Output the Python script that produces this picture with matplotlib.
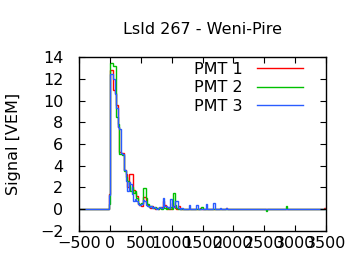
import numpy as np
import matplotlib
matplotlib.use("Agg")
import matplotlib.pyplot as plt

plt.rcParams['font.family'] = ['DejaVu Sans']

title = "LsId 267 - Weni-Pire"
ylabel = "Signal [VEM]"
labels = ["PMT 1", "PMT 2", "PMT 3"]
colors = ["#ff0000", "#00c000", "#2a5cff"]

bin_width = 25.0
t_min, t_max = -500.0, 3500.0
trace_start = -25.0  # start time of the first stored bin

# PMT 1 (red), bins of 25 ns starting at -25 ns
pmt1 = [1.4, 12.8, 12.8, 11.0, 10.7, 9.6, 7.6, 5.3, 5.2, 5.2,
        3.6, 3.2, 2.0, 3.2, 3.2, 3.2, 1.8, 1.5, 1.2, 0.5,
        0.4, 0.3, 1.1, 1.1, 0.6, 0.4, 0.2, 0.1, 0.3, 0.1,
        0.0, 0.1, 0.0, 0.1, 0.2, 0.7, 0.4, 0.1, 0.0, 0.2,
        0.0, 0.6, 0.3, 0.1, 0.0, 0.3, 0.0, 0.0, 0.0, 0.0,
        0.0, 0.0, 0.0, 0.0, 0.0, 0.0, 0.0, 0.0, 0.0, 0.1,
        0.0, 0.0, 0.0, 0.0, 0.0, 0.0, 0.0, 0.0, 0.0, 0.0,
        0.0, 0.0, 0.0, 0.0, 0.0, 0.0, 0.1, 0.0, 0.0, 0.0]
# PMT 2 (green)
pmt2 = [0.5, 13.5, 13.5, 13.2, 13.2, 8.5, 7.8, 5.1, 5.1, 5.0,
        3.5, 3.0, 2.6, 2.2, 1.7, 2.0, 1.5, 1.7, 1.0, 0.6,
        0.5, 0.6, 1.9, 1.9, 1.0, 0.5, 0.2, 0.3, 0.2, 0.1,
        0.2, 0.1, 0.0, 0.1, 0.0, 0.2, 0.1, 0.0, 0.1, 0.0,
        0.2, 0.0, 1.5, 0.4, 0.1, 0.0, 0.0, 0.0, 0.0, 0.0,
        0.0, 0.0, 0.0, 0.0, 0.0, 0.0, 0.0, 0.0, 0.0, 0.0,
        0.15, 0.0, 0.0, 0.0, 0.0, 0.0, 0.0, 0.0, 0.0, 0.0,
        0.0, 0.0, 0.0, 0.0, 0.0, 0.0, 0.0, 0.0, 0.0, 0.0]
# PMT 3 (blue)
pmt3 = [1.3, 12.5, 12.5, 12.0, 10.6, 9.3, 7.6, 7.4, 5.2, 5.1,
        3.6, 2.6, 1.7, 2.5, 2.3, 1.4, 0.7, 0.9, 0.7, 0.5,
        0.4, 0.5, 0.8, 0.7, 0.4, 0.3, 0.2, 0.3, 0.1, 0.2,
        0.1, 0.0, 0.1, 0.2, 0.1, 1.0, 0.3, 0.3, 0.2, 0.1,
        0.9, 0.3, 0.2, 0.75, 0.75, 0.1, 0.0, 0.1, 0.0, 0.0,
        0.0, 0.0, 0.37, 0.0, 0.0, 0.0, 0.0, 0.37, 0.0, 0.0,
        0.0, 0.0, 0.0, 0.46, 0.0, 0.0, 0.0, 0.0, 0.58, 0.0,
        0.0, 0.0, 0.1, 0.0, 0.0, 0.0, 0.1, 0.0, 0.0, 0.0]
# isolated late samples: (time of bin start, value)
late1 = [(3475.0, 0.1)]
late2 = [(2525.0, -0.15), (2850.0, 0.27)]
late3 = []

xticks = [-500, 0, 500, 1000, 1500, 2000, 2500, 3000, 3500]
yticks = [-2, 0, 2, 4, 6, 8, 10, 12, 14]

edges = np.arange(t_min, t_max + bin_width / 2, bin_width)
nb = len(edges) - 1


def full_trace(vals, late):
    out = np.zeros(nb)
    i0 = int(round((trace_start - t_min) / bin_width))
    out[i0:i0 + len(vals)] = vals
    for t, v in late:
        out[int(round((t - t_min) / bin_width))] = v
    return out


fs = 11.5
fig = plt.figure(figsize=(3.6, 2.7), dpi=100)
ax = fig.add_axes([79.3 / 360, 1 - 230.7 / 270, (326 - 79.3) / 360, (230.7 - 57.3) / 270])

for vals, late, c, lab in zip([pmt1, pmt2, pmt3], [late1, late2, late3], colors, labels):
    ax.stairs(full_trace(vals, late), edges, baseline=None, color=c, lw=1.0, label=lab)

ax.set_xlim(t_min, t_max)
ax.set_ylim(-2, 14)
ax.set_xticks(xticks)
ax.set_yticks(yticks)
ax.tick_params(direction='in', top=True, right=True, length=4, width=0.8, labelsize=fs)
ax.tick_params(axis='x', pad=3.5)
ax.tick_params(axis='y', pad=11.5)
for s in ax.spines.values():
    s.set_linewidth(1.0)

ax.set_title(title, fontsize=fs, pad=16.5)
ax.set_ylabel(ylabel, fontsize=fs)
ax.yaxis.set_label_coords(-0.235, 0.5)

ax.legend(loc='upper right', bbox_to_anchor=(0.94, 1.02), frameon=False, markerfirst=False,
          fontsize=fs, handlelength=2.9, handletextpad=0.9, labelspacing=0.22, borderpad=0.0)

fig.savefig("out.png", dpi=100)
